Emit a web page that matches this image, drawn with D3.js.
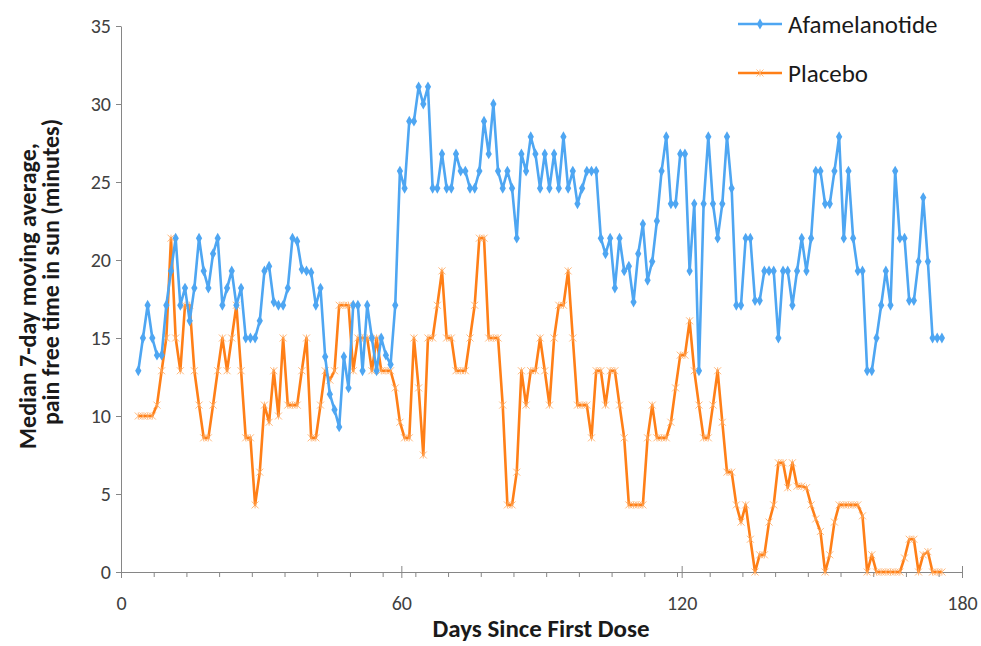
<!DOCTYPE html>
<html>
<head>
<meta charset="utf-8">
<script src="https://cdn.jsdelivr.net/npm/d3@7/dist/d3.min.js"></script>
<style>
body { margin: 0; background: #fff; }
text { font-family: Carlito, Calibri, Lato, sans-serif; }
</style>
</head>
<body>
<svg id="chart" width="981" height="646"></svg>
<script>
// first plotted day (points are daily after that)
var startDay = 3.7

var afamelanotide = [
	12.9, 15, 17.1, 15, 13.9, 13.9, 17.1, 19.3, 21.4, 17.1,
	18.2, 16.1, 18.2, 21.4, 19.3, 18.2, 20.4, 21.4, 17.1, 18.2,
	19.3, 17.1, 18.2, 15, 15, 15, 16.1, 19.3, 19.6, 17.3,
	17.1, 17.1, 18.2, 21.4, 21.2, 19.4, 19.3, 19.2, 17.1, 18.2,
	13.8, 11.4, 10.4, 9.3, 13.8, 11.8, 17.1, 17.1, 12.9, 17.1,
	15, 12.9, 15, 13.9, 13.3, 17.1, 25.7, 24.6, 28.9, 28.9,
	31.1, 30, 31.1, 24.6, 24.6, 26.8, 24.6, 24.6, 26.8, 25.7,
	25.7, 24.6, 24.6, 25.7, 28.9, 26.8, 30, 25.7, 24.6, 25.7,
	24.6, 21.4, 26.8, 25.7, 27.9, 26.8, 24.6, 26.8, 24.6, 26.8,
	24.6, 27.9, 24.6, 25.7, 23.6, 24.6, 25.7, 25.7, 25.7, 21.4,
	20.4, 21.4, 18.2, 21.4, 19.3, 19.6, 17.3, 20.4, 22.3, 18.7,
	19.9, 22.5, 25.7, 27.9, 23.6, 23.6, 26.8, 26.8, 19.3, 23.6,
	12.9, 23.6, 27.9, 23.6, 21.4, 23.6, 27.9, 24.6, 17.1, 17.1,
	21.4, 21.4, 17.4, 17.4, 19.3, 19.3, 19.3, 15, 19.3, 19.3,
	17.1, 19.3, 21.4, 19.3, 21.4, 25.7, 25.7, 23.6, 23.6, 25.7,
	27.9, 21.4, 25.7, 21.4, 19.3, 19.3, 12.9, 12.9, 15, 17.1,
	19.3, 17.1, 25.7, 21.4, 21.4, 17.4, 17.4, 19.9, 24.0, 19.9,
	15, 15, 15
]

var placebo = [
	10, 10, 10, 10, 10.7, 12.9, 15, 21.4, 15, 12.9,
	17.1, 17.1, 12.9, 10.7, 8.6, 8.6, 10.7, 12.9, 15, 12.9,
	15, 17.1, 12.9, 8.6, 8.6, 4.3, 6.4, 10.7, 9.6, 12.9,
	10, 15, 10.7, 10.7, 10.7, 12.9, 15, 8.6, 8.6, 10.7,
	12.9, 12.3, 12.9, 17.1, 17.1, 17.1, 12.9, 15, 15, 15,
	12.9, 15, 12.9, 12.9, 12.9, 11.8, 9.6, 8.6, 8.6, 15,
	11.8, 7.5, 15, 15, 17.1, 19.3, 15, 15, 12.9, 12.9,
	12.9, 15, 17.1, 21.4, 21.4, 15, 15, 15, 10.7, 4.3,
	4.3, 6.4, 12.9, 10.7, 12.9, 12.9, 15, 12.9, 10.7, 15,
	17.1, 17.1, 19.3, 15, 10.7, 10.7, 10.7, 8.6, 12.9, 12.9,
	10.7, 12.9, 12.9, 10.7, 8.6, 4.3, 4.3, 4.3, 4.3, 8.6,
	10.7, 8.6, 8.6, 8.6, 9.6, 11.8, 13.9, 13.9, 16.1, 12.9,
	10.7, 8.6, 8.6, 10.7, 12.9, 9.6, 6.4, 6.4, 4.3, 3.2,
	4.3, 2.1, 0, 1.1, 1.1, 3.2, 4.3, 7.0, 7.0, 5.4,
	7.0, 5.5, 5.5, 5.4, 4.3, 3.4, 2.6, 0, 1.1, 3.2,
	4.3, 4.3, 4.3, 4.3, 4.3, 3.6, 0, 1.1, 0, 0,
	0, 0, 0, 0, 0.9, 2.1, 2.1, 0, 1.1, 1.3,
	0, 0, 0
]

var seriesNames = ["Afamelanotide", "Placebo"]
var seriesColors = ["#4ea6f2", "#ff7f17"]
var xTicks = [0, 60, 120, 180]
var xMinorTicks = [7, 14, 21, 28, 35, 42, 49, 56, 63, 70, 77, 84, 91, 98, 105, 112, 119, 126, 133, 140, 147, 154, 161, 168, 175]
var yTicks = [0, 5, 10, 15, 20, 25, 30, 35]

var plotLeft = 121, plotRight = 962, plotTop = 26, plotBottom = 572
var axisColor = "#868686"
var starColor = "#ffa85c"

var svg = d3.select("#chart")

var x = d3.scaleLinear().domain([0, 180]).range([plotLeft, plotRight])
var y = d3.scaleLinear().domain([0, 35]).range([plotBottom, plotTop])

// y axis
var yAxis = svg.append("g")
	.attr("transform", "translate(" + plotLeft + ",0)")
	.call(d3.axisLeft(y).tickValues(yTicks).tickSize(5).tickSizeOuter(0).tickPadding(5))
yAxis.select(".domain").attr("stroke", axisColor)
yAxis.selectAll(".tick line").attr("stroke", axisColor)
yAxis.selectAll(".tick text")
	.attr("fill", "#404040")
	.style("font-size", "20px")

// x axis, minor ticks first
var xMinor = svg.append("g")
	.attr("transform", "translate(0," + plotBottom + ")")
	.call(d3.axisBottom(x).tickValues(xMinorTicks).tickSize(5).tickFormat(""))
xMinor.select(".domain").remove()
xMinor.selectAll(".tick line").attr("stroke", axisColor)

var xAxis = svg.append("g")
	.attr("transform", "translate(0," + plotBottom + ")")
	.call(d3.axisBottom(x).tickValues(xTicks).tickSize(6).tickSizeOuter(0).tickPadding(18))
xAxis.select(".domain").attr("stroke", axisColor)
xAxis.selectAll(".tick line").attr("stroke", axisColor).attr("y1", -6)
xAxis.selectAll(".tick text")
	.attr("fill", "#404040")
	.style("font-size", "20px")

// axis titles
svg.append("text")
	.attr("x", 541)
	.attr("y", 637)
	.attr("text-anchor", "middle")
	.style("font-size", "25px")
	.style("font-weight", "bold")
	.attr("fill", "#1a1a1a")
	.text("Days Since First Dose")

var yTitle = svg.append("g")
	.style("font-size", "24px")
	.style("font-weight", "bold")
	.attr("fill", "#1a1a1a")
yTitle.append("text")
	.attr("transform", "translate(36,296) rotate(-90)")
	.attr("text-anchor", "middle")
	.text("Median 7-day moving average,")
yTitle.append("text")
	.attr("transform", "translate(59,272) rotate(-90)")
	.attr("text-anchor", "middle")
	.text("pain free time in sun (minutes)")

var line = d3.line()
	.x(function(d, i) { return x(startDay + i) })
	.y(function(d) { return y(d) })

var diamond = d3.symbol().type(d3.symbolDiamond).size(34)

function drawStar(g, cx, cy, r, color) {
	g.append("path")
		.attr("d", "M" + (cx - r) + "," + (cy - r) + "L" + (cx + r) + "," + (cy + r) +
			"M" + (cx - r) + "," + (cy + r) + "L" + (cx + r) + "," + (cy - r) +
			"M" + cx + "," + (cy - r) + "L" + cx + "," + (cy + r))
		.attr("stroke", color)
		.attr("stroke-width", 1)
		.attr("fill", "none")
}

// placebo
svg.append("path")
	.datum(placebo)
	.attr("d", line)
	.attr("fill", "none")
	.attr("stroke", seriesColors[1])
	.attr("stroke-width", 2.6)
	.attr("stroke-linejoin", "round")

var starG = svg.append("g").attr("opacity", 0.8)
placebo.forEach(function(v, i) {
	drawStar(starG, x(startDay + i), y(v), 3.5, starColor)
})

// afamelanotide
svg.append("path")
	.datum(afamelanotide)
	.attr("d", line)
	.attr("fill", "none")
	.attr("stroke", seriesColors[0])
	.attr("stroke-width", 2.6)
	.attr("stroke-linejoin", "round")

svg.append("g").selectAll("path")
	.data(afamelanotide)
	.enter().append("path")
	.attr("d", diamond)
	.attr("transform", function(d, i) { return "translate(" + x(startDay + i) + "," + y(d) + ")" })
	.attr("fill", seriesColors[0])

// legend
var legend = svg.append("g")
seriesNames.forEach(function(name, i) {
	var ly = 24 + i * 49
	legend.append("line")
		.attr("x1", 738).attr("x2", 782)
		.attr("y1", ly).attr("y2", ly)
		.attr("stroke", seriesColors[i])
		.attr("stroke-width", 2.6)
	if (i == 0) {
		legend.append("path")
			.attr("d", diamond)
			.attr("transform", "translate(760," + ly + ")")
			.attr("fill", seriesColors[0])
	} else {
		var sg = legend.append("g").attr("opacity", 0.8)
		drawStar(sg, 760, ly, 3.5, starColor)
	}
	legend.append("text")
		.attr("x", 788)
		.attr("y", ly)
		.attr("dy", "0.35em")
		.style("font-size", "25px")
		.attr("fill", "#1a1a1a")
		.text(name)
})
</script>
</body>
</html>
